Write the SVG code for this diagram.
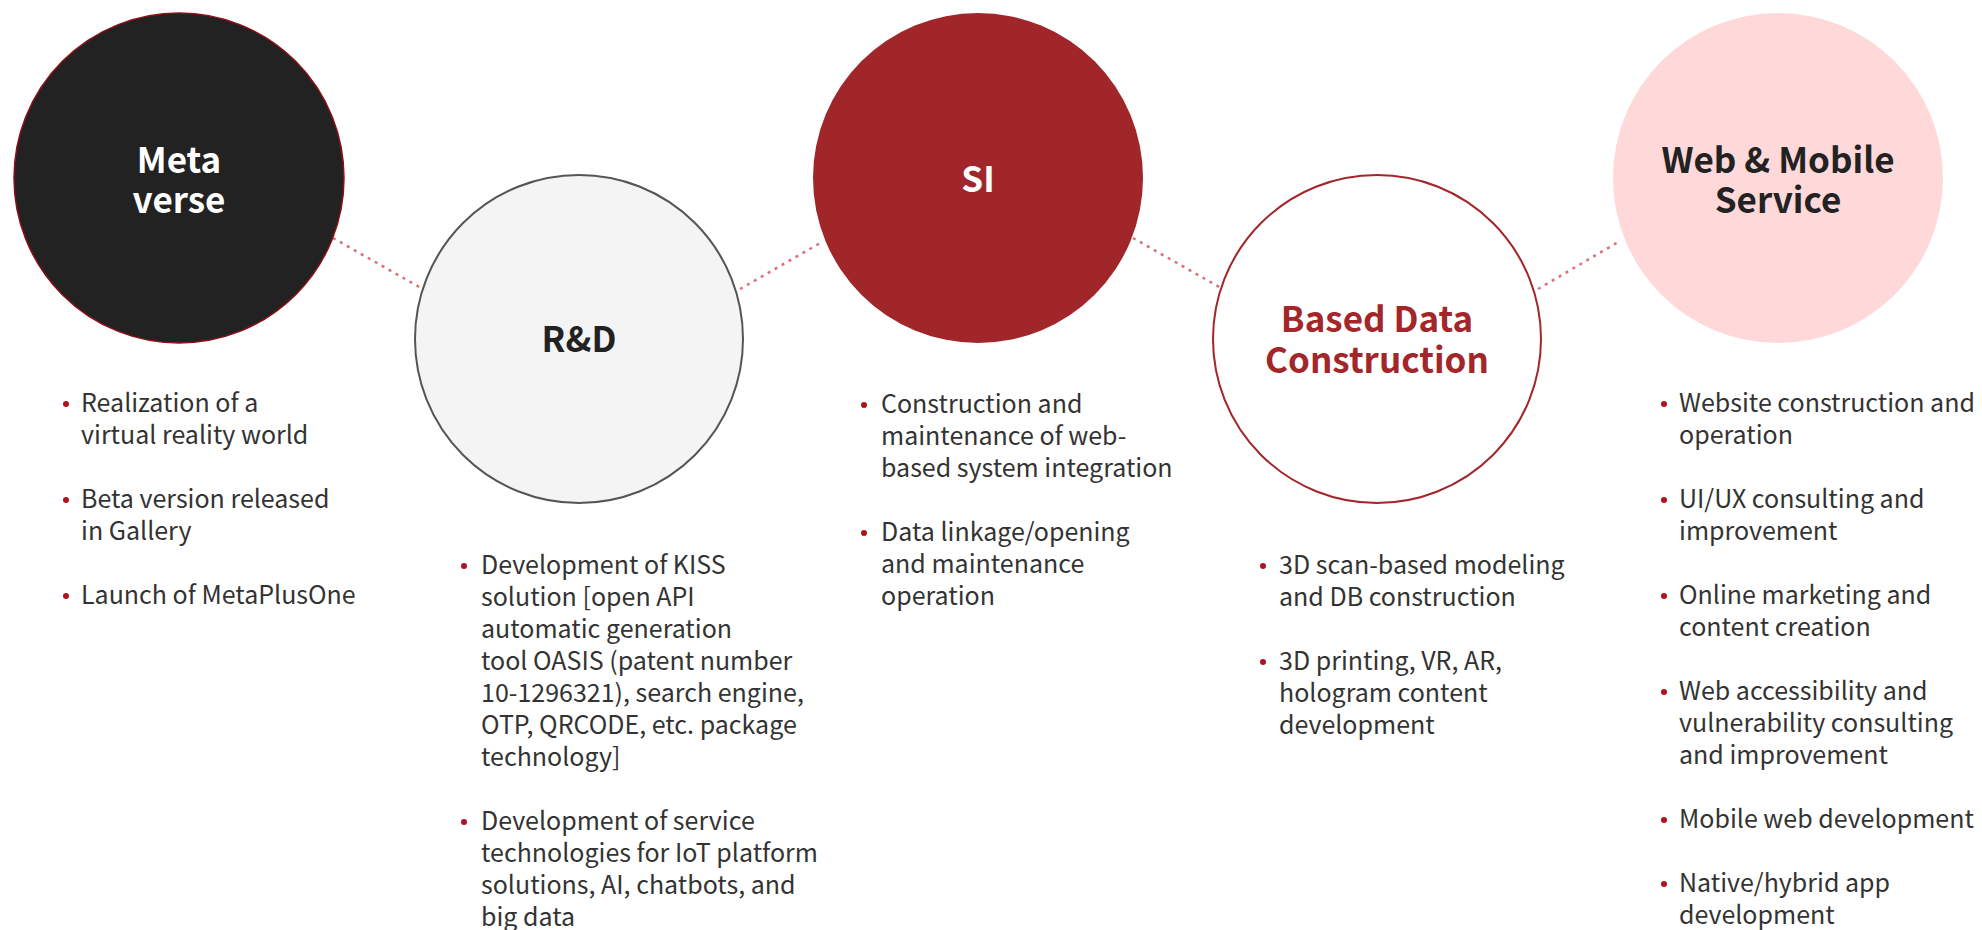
<svg xmlns="http://www.w3.org/2000/svg" width="1982" height="930" viewBox="0 0 1982 930">
<style>
.title{font-family:"Noto Sans CJK KR","Noto Sans",sans-serif;font-weight:bold;font-size:35px;text-anchor:middle}
.body{font-family:"Noto Sans CJK KR","Noto Sans",sans-serif;font-size:25px;fill:#333333}
.dot{fill:#b3121c}
.conn{stroke:#dc6f78;stroke-width:2.5;stroke-dasharray:3 5;fill:none}
</style>
<rect width="1982" height="930" fill="#ffffff"/>
<g id="connectors">
<line class="conn" x1="333" y1="238" x2="421" y2="288"/>
<line class="conn" x1="740" y1="289" x2="822" y2="242"/>
<line class="conn" x1="1133" y1="238" x2="1221" y2="288"/>
<line class="conn" x1="1538" y1="289" x2="1620" y2="241"/>
</g>
<g id="metaverse">
<circle cx="179" cy="178" r="165" fill="#222222" stroke="#8e1016" stroke-width="1.5"/>
<text class="title" fill="#ffffff" x="179" y="173">Meta</text>
<text class="title" fill="#ffffff" x="179" y="213">verse</text>
<circle class="dot" cx="66" cy="404" r="3"/>
<circle class="dot" cx="66" cy="500" r="3"/>
<circle class="dot" cx="66" cy="596" r="3"/>
<text class="body"><tspan x="81" y="412">Realization of a</tspan><tspan x="81" y="444">virtual reality world</tspan><tspan x="81" y="508">Beta version released</tspan><tspan x="81" y="540">in Gallery</tspan><tspan x="81" y="604">Launch of MetaPlusOne</tspan></text>
</g>
<g id="rnd">
<circle cx="579" cy="339" r="164" fill="#f4f4f4" stroke="#555555" stroke-width="2"/>
<text class="title" fill="#222222" x="579" y="352">R&amp;D</text>
<circle class="dot" cx="464" cy="566" r="3"/>
<circle class="dot" cx="464" cy="822" r="3"/>
<text class="body"><tspan x="481" y="574">Development of KISS</tspan><tspan x="481" y="606">solution [open API</tspan><tspan x="481" y="638">automatic generation</tspan><tspan x="481" y="670">tool OASIS (patent number</tspan><tspan x="481" y="702">10-1296321), search engine,</tspan><tspan x="481" y="734">OTP, QRCODE, etc. package</tspan><tspan x="481" y="766">technology]</tspan><tspan x="481" y="830">Development of service</tspan><tspan x="481" y="862">technologies for IoT platform</tspan><tspan x="481" y="894">solutions, AI, chatbots, and</tspan><tspan x="481" y="926">big data</tspan></text>
</g>
<g id="si">
<circle cx="978" cy="178" r="165" fill="#a0262a"/>
<text class="title" fill="#ffffff" x="978" y="192">SI</text>
<circle class="dot" cx="864" cy="405" r="3"/>
<circle class="dot" cx="864" cy="533" r="3"/>
<text class="body"><tspan x="881" y="413">Construction and</tspan><tspan x="881" y="445">maintenance of web-</tspan><tspan x="881" y="477">based system integration</tspan><tspan x="881" y="541">Data linkage/opening</tspan><tspan x="881" y="573">and maintenance</tspan><tspan x="881" y="605">operation</tspan></text>
</g>
<g id="based-data">
<circle cx="1377" cy="339" r="164" fill="#ffffff" stroke="#a3262b" stroke-width="2"/>
<text class="title" fill="#a3262b" x="1377" y="332">Based Data</text>
<text class="title" fill="#a3262b" x="1377" y="373">Construction</text>
<circle class="dot" cx="1263" cy="566" r="3"/>
<circle class="dot" cx="1263" cy="662" r="3"/>
<text class="body"><tspan x="1279" y="574">3D scan-based modeling</tspan><tspan x="1279" y="606">and DB construction</tspan><tspan x="1279" y="670">3D printing, VR, AR,</tspan><tspan x="1279" y="702">hologram content</tspan><tspan x="1279" y="734">development</tspan></text>
</g>
<g id="web-mobile">
<circle cx="1778" cy="178" r="165" fill="#ffd8d9"/>
<text class="title" fill="#222222" x="1778" y="173">Web &amp; Mobile</text>
<text class="title" fill="#222222" x="1778" y="213">Service</text>
<circle class="dot" cx="1664" cy="404" r="3"/>
<circle class="dot" cx="1664" cy="500" r="3"/>
<circle class="dot" cx="1664" cy="596" r="3"/>
<circle class="dot" cx="1664" cy="692" r="3"/>
<circle class="dot" cx="1664" cy="820" r="3"/>
<circle class="dot" cx="1664" cy="884" r="3"/>
<text class="body"><tspan x="1679" y="412">Website construction and</tspan><tspan x="1679" y="444">operation</tspan><tspan x="1679" y="508">UI/UX consulting and</tspan><tspan x="1679" y="540">improvement</tspan><tspan x="1679" y="604">Online marketing and</tspan><tspan x="1679" y="636">content creation</tspan><tspan x="1679" y="700">Web accessibility and</tspan><tspan x="1679" y="732">vulnerability consulting</tspan><tspan x="1679" y="764">and improvement</tspan><tspan x="1679" y="828">Mobile web development</tspan><tspan x="1679" y="892">Native/hybrid app</tspan><tspan x="1679" y="924">development</tspan></text>
</g>
</svg>
